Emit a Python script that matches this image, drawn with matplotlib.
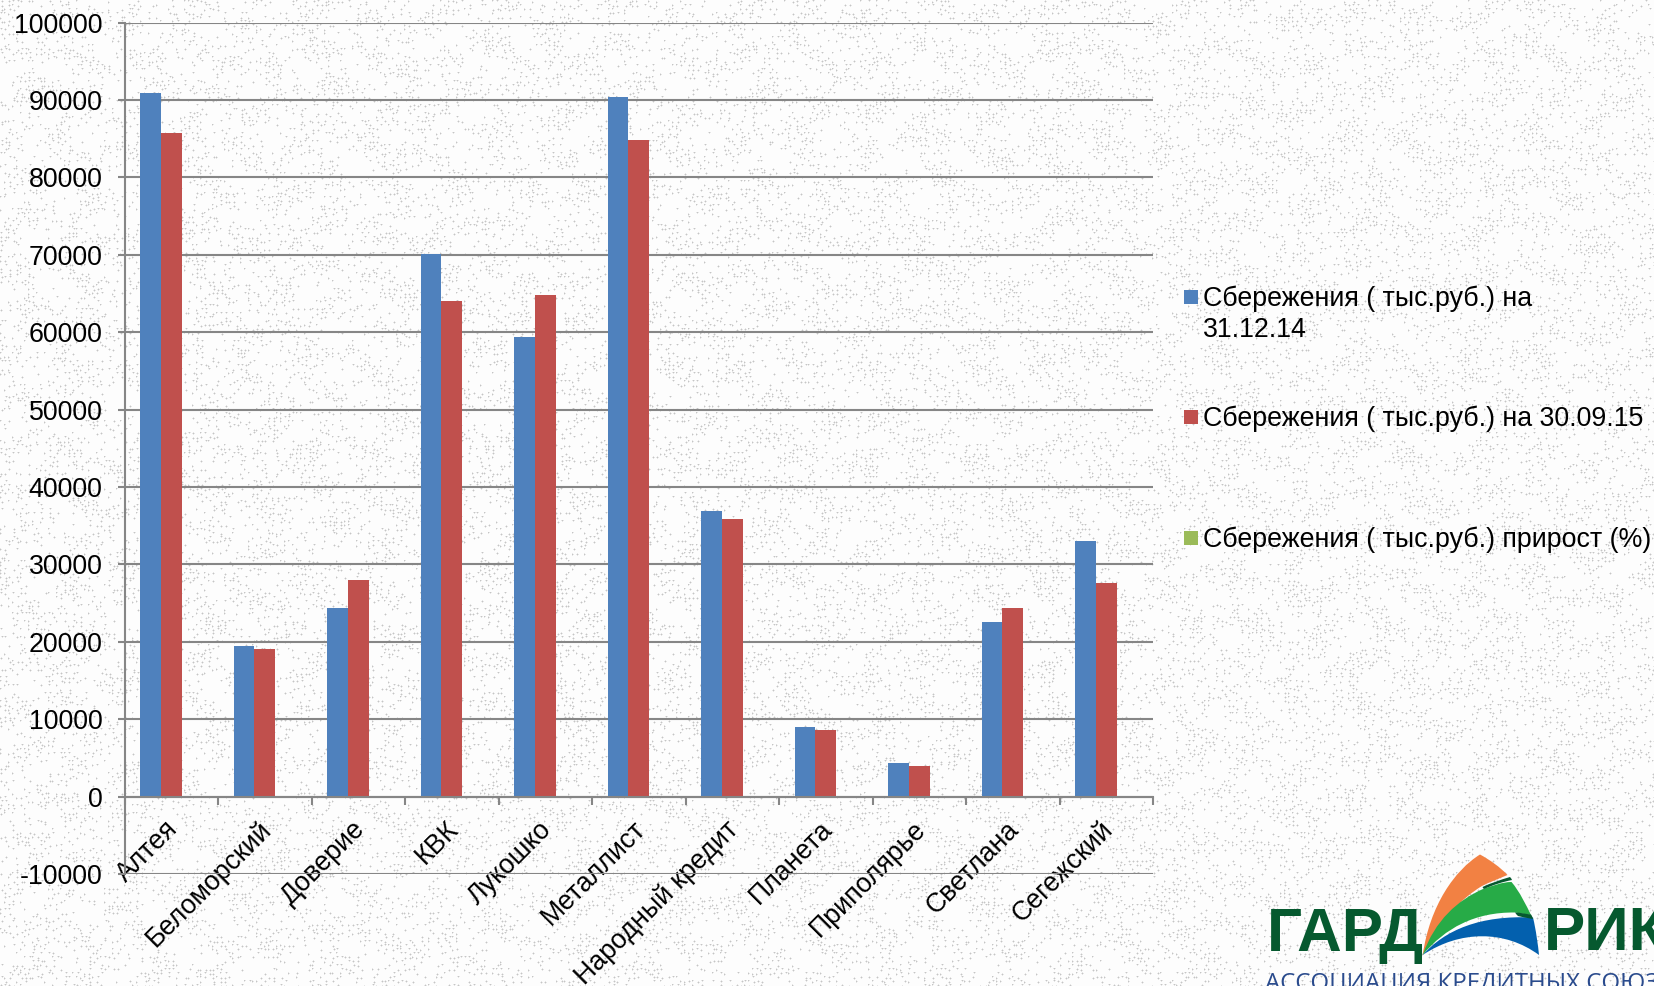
import matplotlib
matplotlib.use("Agg")
import matplotlib.pyplot as plt
import numpy as np
from matplotlib.patches import PathPatch, Rectangle
from matplotlib.path import Path
from matplotlib.transforms import ScaledTranslation

plt.rcParams["font.family"] = ["Liberation Sans", "DejaVu Sans"]
plt.rcParams["axes.unicode_minus"] = False

categories = ["Алтея", "Беломорский", "Доверие", "КВК", "Лукошко", "Металлист",
              "Народный кредит", "Планета", "Приполярье", "Светлана", "Сегежский"]
savings_2014 = [90900, 19400, 24400, 70100, 59400, 90400, 36900, 9000, 4400, 22600, 33000]
savings_2015 = [85700, 19100, 28000, 64000, 64800, 84800, 35900, 8600, 4000, 24400, 27600]
growth_pct = [0, 0, 0, 0, 0, 0, 0, 0, 0, 0, 0]
y_ticks = [-10000, 0, 10000, 20000, 30000, 40000, 50000, 60000, 70000, 80000, 90000, 100000]
legend_labels = ["Сбережения ( тыс.руб.) на\n31.12.14",
                 "Сбережения ( тыс.руб.) на 30.09.15",
                 "Сбережения ( тыс.руб.) прирост (%)"]

BLUE, RED, GREEN = "#4F81BD", "#C0504D", "#9BBB59"
GREY = "#868686"
LOGO_GREEN = "#06592F"
FS = 19.3
W, H = 1654, 986

fig = plt.figure(figsize=(W / 100, H / 100), dpi=100, facecolor="white")

# whole-figure layer in pixel coords, for the paper texture, legend and logo
bg = fig.add_axes([0, 0, 1, 1], zorder=0)
bg.set_xlim(0, W)
bg.set_ylim(H, 0)
bg.axis("off")


def cell_hash(a, b, k):
    v = np.sin(a * 12.9898 + b * 78.233 + k) * 43758.5453
    return v - np.floor(v)


# speckled paper: soft dots jittered inside 4 px cells, picked by an arithmetic hash
yy, xx = np.mgrid[0:H, 0:W]
ci, cj = xx // 4, yy // 4
patches = np.sin(ci * 0.41 + np.sin(cj * 0.23) * 2) + np.sin(cj * 0.57 + np.sin(ci * 0.17) * 2)
active = cell_hash(ci, cj, 0.0) < 0.36 + 0.16 * patches
ox = (cell_hash(ci, cj, 1.7) * 3).astype(int)
oy = (cell_hash(ci, cj, 3.1) * 3).astype(int)
dist = np.abs(xx % 4 - ox) + np.abs(yy % 4 - oy)
spot = (dist == 0) * 1.0 + (dist == 1) * 0.4
paper = 0.99 - active * spot * 0.22
bg.imshow(paper, cmap="gray", vmin=0, vmax=1, extent=(0, W, H, 0), aspect="auto",
          interpolation="nearest", zorder=0)

# chart
ax = fig.add_axes([124.5 / W, 1 - 874 / H, (1153 - 124.5) / W, (874 - 22.7) / H], zorder=1)
ax.patch.set_alpha(0)
x = np.arange(len(categories))
bw = 0.222
ax.bar(x - bw, savings_2014, bw, color=BLUE, zorder=3)
ax.bar(x, savings_2015, bw, color=RED, zorder=3)
ax.bar(x + bw, growth_pct, bw, color=GREEN, zorder=3, linewidth=0)

ax.set_xlim(-0.5, len(categories) - 0.5)
ax.set_ylim(-10000, 100000)
ax.set_yticks(y_ticks)
ax.grid(True, axis="y", color=GREY, linewidth=1.5, zorder=1)
ax.set_axisbelow(True)
for side in ["top", "right"]:
    ax.spines[side].set_visible(False)
ax.spines["left"].set_color(GREY)
ax.spines["left"].set_linewidth(1.5)
ax.spines["bottom"].set_color(GREY)
ax.spines["bottom"].set_linewidth(1.5)
ax.spines["bottom"].set_position(("data", 0))
ax.spines["bottom"].set_zorder(4)
ax.tick_params(axis="y", length=5.4, width=1.5, color=GREY, pad=10.5, labelsize=FS, labelcolor="black")

# ticks sit between the categories, labels at the centres
ax.set_xticks(np.arange(len(categories) + 1) - 0.5)
ax.set_xticklabels([])
ax.set_xticks(x, minor=True)
ax.set_xticklabels(categories, minor=True, rotation=45, ha="right", va="top",
                   rotation_mode="anchor", fontsize=FS, color="black")
ax.tick_params(axis="x", which="major", length=5.4, width=1.5, color=GREY, direction="out")
ax.tick_params(axis="x", which="minor", length=0, pad=14)
shift = ScaledTranslation(-6.5 / 100, 0, fig.dpi_scale_trans)
for lab in ax.get_xticklabels(minor=True):
    lab.set_transform(lab.get_transform() + shift)

# legend
for y0, c, label in zip([289.5, 410, 531], [BLUE, RED, GREEN], legend_labels):
    bg.add_patch(Rectangle((1184, y0), 14, 14, facecolor=c, edgecolor="none", zorder=2))
    bg.text(1203, y0 - 4, label, fontsize=19.25, color="black", va="top", ha="left",
            linespacing=1.26, zorder=2)


def shape(points, color):
    # points: start, then triples of bezier control points
    codes = [Path.MOVETO] + [Path.CURVE4] * (len(points) - 1) + [Path.CLOSEPOLY]
    bg.add_patch(PathPatch(Path(points + [points[0]], codes), facecolor=color,
                           edgecolor="none", zorder=3))


# logo sail
tip = (1422.7, 955)
shape([tip, (1430, 905), (1455, 870), (1480, 854.5),
       (1490, 860), (1500, 867), (1507.5, 875),
       (1498, 879), (1490, 882), (1482, 886),
       (1462, 898), (1440, 920), tip], "#F28143")
shape([tip, (1435, 920), (1458, 900), (1483, 889),
       (1492, 886), (1502, 882), (1511.5, 882),
       (1520, 892), (1526, 905), (1531, 915),
       (1524, 914), (1518, 913), (1515, 912.5),
       (1475, 912), (1445, 928), tip], "#27AB47")
shape([tip, (1445, 930), (1480, 915), (1533, 917.5),
       (1536, 930), (1538, 945), (1539, 955),
       (1505, 930), (1460, 930), tip], "#0360AE")
shape([(1482.5, 887), (1491, 883), (1500, 880), (1510, 877),
       (1511, 878), (1511.5, 879), (1512, 880),
       (1502, 882), (1493, 885), (1484, 889),
       (1483.5, 888.5), (1483, 888), (1482.5, 887)], LOGO_GREEN)
shape([(1515, 912.5), (1520, 912.5), (1526, 914), (1531, 914.5),
       (1532, 916), (1532.5, 917), (1533, 919),
       (1527, 918), (1522, 917), (1518, 916),
       (1517, 915), (1516, 914), (1515, 912.5)], LOGO_GREEN)

bg.text(1267, 950.5, "ГАРД", fontsize=44.5, fontweight="bold", color=LOGO_GREEN, va="baseline", ha="left", zorder=3)
bg.text(1544, 950.5, "РИК", fontsize=44.5, fontweight="bold", color=LOGO_GREEN, va="baseline", ha="left", zorder=3)
bg.text(1265, 990, "АССОЦИАЦИЯ КРЕДИТНЫХ СОЮЗОВ", fontsize=17.3, color="#2A4B8D", va="baseline", ha="left",
        family=["Open Sans", "Liberation Sans"], zorder=3)

plt.savefig("out.png", dpi=100)
plt.close()
